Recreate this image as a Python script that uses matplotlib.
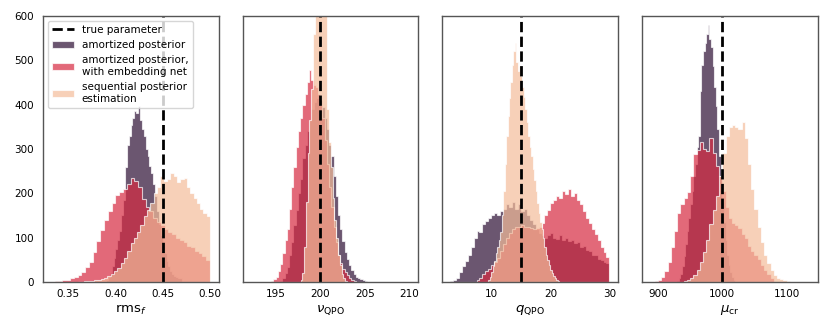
import numpy as np
import matplotlib
matplotlib.use("Agg")
import matplotlib.pyplot as plt

narrow = ["Liberation Sans Narrow", "DejaVu Sans"]
plt.rcParams["mathtext.fontset"] = "custom"
plt.rcParams["mathtext.rm"] = "Liberation Sans Narrow"
plt.rcParams["mathtext.it"] = "Liberation Sans Narrow:italic"

# parameter names and true values
labels = [r"$\mathrm{rms}_f$", r"$\nu_\mathrm{QPO}$", r"$q_\mathrm{QPO}$", r"$\mu_\mathrm{cr}$"]
true_vals = [0.45, 200, 15, 1000]
names = ["amortized posterior", "amortized posterior,\nwith embedding net",
         "sequential posterior\nestimation"]
colors = ["#2c0e33", "#d72a41", "#f4bc9a"]

# histogram counts: (range lo, range hi), counts
rms_amort = (0.390, 0.470)
rms_amort_n = [5, 12, 20, 35, 55, 75, 95, 115, 150, 185, 260, 310, 330, 355, 370,
               385, 380, 398, 365, 345, 330, 300, 285, 262, 245, 220, 195, 160, 130, 105,
               85, 65, 48, 35, 25, 17, 14, 12, 10, 8]
rms_embed = (0.336, 0.500)
rms_embed_n = [2, 3, 4, 5, 8, 12, 15, 22, 33, 45, 68, 92, 118, 140, 160, 178, 196, 202,
               210, 222, 234, 228, 215, 188, 170, 160, 145, 135, 128, 120, 112, 108, 100,
               95, 90, 82, 78, 70, 65, 58, 50]
rms_snpe = (0.360, 0.500)
rms_snpe_n = [1, 1, 2, 2, 3, 4, 5, 7, 10, 13, 18, 25, 32, 42, 55, 70, 88, 100, 112, 128,
              148, 162, 178, 200, 215, 238, 228, 232, 246, 240, 225, 232, 235, 215, 200,
              190, 178, 165, 155, 148]

nu_amort = (195.5, 205.5)
nu_amort_n = [3, 8, 20, 34, 60, 90, 128, 162, 200, 232, 280, 310, 340, 365, 390, 405,
              415, 420, 410, 395, 370, 345, 310, 285, 240, 195, 150, 120, 92, 68, 52, 38,
              26, 18, 12, 9, 6, 4, 2, 1]
nu_embed = (194.5, 204.0)
nu_embed_n = [3, 6, 12, 25, 40, 65, 95, 120, 165, 215, 260, 305, 340, 370, 400, 425, 450,
              478, 455, 445, 440, 425, 400, 370, 320, 265, 215, 170, 125, 90, 62, 42, 30,
              22, 15, 10, 5, 2]
nu_snpe = (197.8, 203.0)
nu_snpe_n = [5, 20, 80, 180, 290, 365, 435, 560, 720, 850, 900, 880, 800, 700, 610, 390,
             315, 260, 190, 140, 100, 60, 38, 18, 8, 3]

q_amort = (3.0, 30.0)
q_amort_n = [2, 5, 10, 22, 35, 47, 60, 80, 100, 115, 112, 130, 138, 145, 150, 155, 152,
             160, 165, 175, 170, 180, 165, 175, 160, 165, 150, 140, 130, 120, 110, 105,
             100, 105, 110, 100, 98, 105, 95, 100, 92, 95, 88, 90, 80, 82, 72, 70, 62, 60,
             52, 50, 45, 42]
q_embed = (7.5, 30.0)
q_embed_n = [5, 10, 18, 25, 30, 38, 45, 55, 70, 85, 100, 110, 120, 125, 125, 128, 125,
             125, 122, 120, 122, 125, 132, 150, 162, 178, 185, 193, 190, 205, 198, 210,
             195, 200, 185, 175, 160, 145, 132, 120, 108, 95, 80, 68, 57]
q_snpe = (9.5, 21.5)
q_snpe_n = [5, 12, 22, 35, 48, 65, 80, 95, 112, 150, 205, 265, 330, 375, 415, 450, 490,
            520, 540, 495, 475, 488, 465, 440, 418, 390, 360, 330, 305, 285, 255, 230, 205,
            178, 155, 135, 120, 100, 80, 62, 50, 38, 27, 20, 14, 9, 5, 3]

mu_amort = (930, 1020)
mu_amort_n = [3, 8, 18, 35, 58, 85, 115, 145, 175, 205, 238, 265, 305, 330, 430, 490, 520,
              540, 560, 580, 548, 530, 488, 440, 398, 345, 285, 235, 180, 135, 95, 62, 38,
              22, 12, 5]
mu_embed = (895, 1080)
mu_embed_n = [2, 5, 12, 25, 45, 80, 115, 155, 175, 190, 202, 240, 288, 298, 315, 300, 295,
              325, 290, 262, 240, 205, 170, 145, 132, 128, 122, 108, 100, 82, 70, 62, 52,
              38, 27, 17, 10]
mu_snpe = (940, 1105)
mu_snpe_n = [2, 5, 9, 15, 27, 45, 68, 95, 130, 162, 195, 240, 290, 330, 350, 355, 350,
             345, 360, 325, 265, 210, 165, 125, 90, 62, 42, 28, 16, 10, 6, 4, 2]

panels = [
    [(rms_amort, rms_amort_n), (rms_embed, rms_embed_n), (rms_snpe, rms_snpe_n)],
    [(nu_amort, nu_amort_n), (nu_embed, nu_embed_n), (nu_snpe, nu_snpe_n)],
    [(q_amort, q_amort_n), (q_embed, q_embed_n), (q_snpe, q_snpe_n)],
    [(mu_amort, mu_amort_n), (mu_embed, mu_embed_n), (mu_snpe, mu_snpe_n)],
]
xlims = [(0.3235, 0.509), (191.3, 211.0), (1.71, 31.43), (875.3, 1147.9)]
xticks = [[0.35, 0.40, 0.45, 0.50], [195, 200, 205, 210], [10, 20, 30], [900, 1000, 1100]]

fig = plt.figure(figsize=(8.3, 3.32), dpi=100)
axes = fig.subplots(1, 4, sharey=True)
fig.subplots_adjust(left=0.0518, right=0.985, top=0.952, bottom=0.1506, wspace=0.137)

for i, ax in enumerate(axes):
    for k, ((lo, hi), n) in enumerate(panels[i]):
        n = np.array(n, dtype=float)
        edges = np.linspace(lo, hi, len(n) + 1)
        mids = 0.5 * (edges[:-1] + edges[1:])
        ax.hist(mids, bins=edges, weights=n, histtype="stepfilled", color=colors[k],
                alpha=0.7, ec="white", lw=0.8, label=names[k])
    ax.axvline(true_vals[i], color="k", ls="--", lw=2, label="true parameter")
    ax.set_xlim(*xlims[i])
    ax.set_xticks(xticks[i])
    ax.set_ylim(0, 600)
    ax.set_xlabel(labels[i], fontsize=9.5, labelpad=3)
    ax.tick_params(axis="x", length=0, pad=5)
    ax.tick_params(axis="y", length=0, pad=6.5)
    for t in ax.get_xticklabels() + ax.get_yticklabels():
        t.set_family(narrow)
        t.set_fontsize(7.5)
    for s in ax.spines.values():
        s.set_color("#555555")
        s.set_linewidth(1.0)

axes[0].set_yticks(range(0, 601, 100))
for t in axes[0].get_yticklabels():
    t.set_family(narrow)
    t.set_fontsize(7.5)

h, l = axes[0].get_legend_handles_labels()
order = [3, 0, 1, 2]
axes[0].legend([h[j] for j in order], [l[j] for j in order], loc="upper left",
               fontsize=7.5, framealpha=0.8, borderaxespad=0.45, handlelength=2.1,
               handletextpad=0.75, labelspacing=0.5, borderpad=0.42)

fig.savefig("out.png", dpi=100)
